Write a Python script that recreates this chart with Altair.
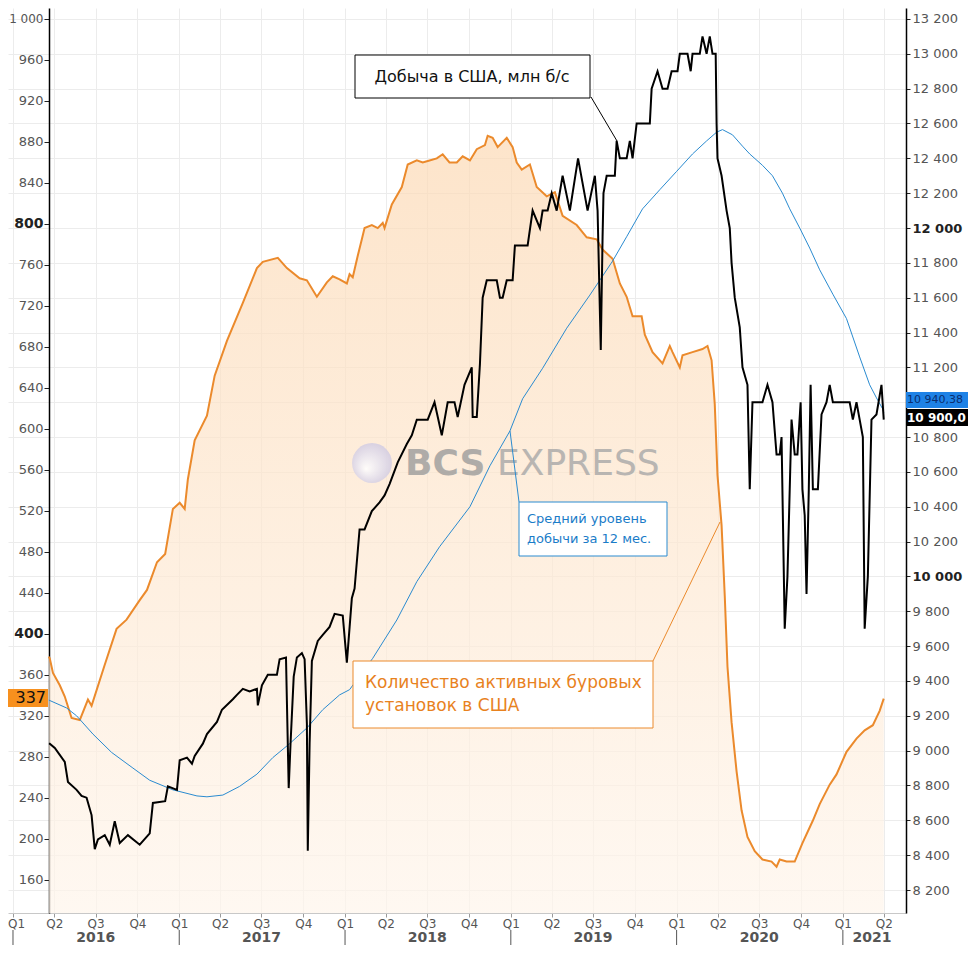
import altair as alt
import pandas as pd

FONT = "DejaVu Sans"

# ---------------- data ----------------
rig_dates = [
    "2016-03-20", "2016-03-22", "2016-03-29", "2016-04-13", "2016-04-24", "2016-05-09", "2016-05-27", "2016-06-14", "2016-06-22", "2016-07-21",
    "2016-08-16", "2016-09-07", "2016-10-06", "2016-10-22", "2016-11-13", "2016-12-01", "2016-12-18", "2017-01-02", "2017-01-13", "2017-01-20",
    "2017-02-04", "2017-03-03", "2017-03-20", "2017-04-16", "2017-05-21", "2017-06-21", "2017-07-04", "2017-08-06", "2017-08-26", "2017-09-23",
    "2017-10-09", "2017-10-31", "2017-11-22", "2017-12-05", "2017-12-20", "2018-01-05", "2018-01-11", "2018-01-18", "2018-01-29", "2018-02-07",
    "2018-02-13", "2018-03-01", "2018-03-14", "2018-03-25", "2018-03-29", "2018-04-14", "2018-05-06", "2018-05-19", "2018-06-08", "2018-06-21",
    "2018-07-06", "2018-07-22", "2018-08-04", "2018-08-19", "2018-09-04", "2018-09-17", "2018-10-03", "2018-10-18", "2018-11-05", "2018-11-11",
    "2018-11-22", "2018-12-03", "2018-12-23", "2019-01-05", "2019-01-14", "2019-01-25", "2019-02-12", "2019-02-27", "2019-03-21", "2019-04-08",
    "2019-04-25", "2019-05-26", "2019-06-17", "2019-07-09", "2019-07-22", "2019-08-13", "2019-08-29", "2019-09-13", "2019-09-26", "2019-10-16",
    "2019-10-23", "2019-11-09", "2019-12-01", "2019-12-17", "2019-12-23", "2020-01-08", "2020-01-14", "2020-02-05", "2020-02-27", "2020-03-09",
    "2020-03-18", "2020-03-25", "2020-03-31", "2020-04-09", "2020-04-16", "2020-04-22", "2020-05-01", "2020-05-12", "2020-05-23", "2020-06-05",
    "2020-06-21", "2020-07-08", "2020-07-28", "2020-08-08", "2020-08-15", "2020-08-30", "2020-09-17", "2020-10-04", "2020-10-27", "2020-11-11",
    "2020-12-03", "2020-12-18", "2021-01-09", "2021-01-31", "2021-02-18", "2021-03-08", "2021-03-23", "2021-04-01",
]
rig_values = [
    378, 376, 362, 350, 339, 318, 316, 336, 330, 370,
    405, 414, 433, 443, 470, 478, 522, 528, 522, 551,
    589, 613, 652, 686, 723, 757, 763, 767, 757, 747,
    745, 729, 743, 749, 746, 742, 751, 748, 769, 785,
    796, 799, 796, 801, 796, 819, 836, 858, 862, 860,
    862, 864, 868, 860, 860, 866, 862, 873, 877, 886,
    884, 875, 884, 875, 860, 853, 858, 836, 827, 831,
    808, 799, 787, 785, 775, 766, 742, 729, 710, 710,
    692, 675, 664, 681, 675, 660, 672, 675, 678, 681,
    667, 624, 555, 506, 437, 368, 314, 266, 228, 202,
    188, 180, 178, 173, 180, 178, 178, 196, 218, 234,
    253, 263, 285, 298, 306, 311, 325, 337,
]

prod_dates = [
    "2016-03-20", "2016-03-22", "2016-04-02", "2016-04-24", "2016-05-01", "2016-05-20", "2016-05-31", "2016-06-11", "2016-06-22", "2016-06-29",
    "2016-07-06", "2016-07-21", "2016-08-01", "2016-08-12", "2016-08-23", "2016-09-10", "2016-10-06", "2016-10-28", "2016-11-04", "2016-12-01",
    "2016-12-07", "2016-12-27", "2017-01-02", "2017-01-18", "2017-01-29", "2017-02-04", "2017-02-22", "2017-03-03", "2017-03-25", "2017-04-05",
    "2017-04-29", "2017-05-08", "2017-05-21", "2017-06-05", "2017-06-21", "2017-06-23", "2017-07-02", "2017-07-15", "2017-08-04", "2017-08-10",
    "2017-08-24", "2017-08-26", "2017-08-30", "2017-09-03", "2017-09-10", "2017-09-17", "2017-09-28", "2017-10-04", "2017-10-09", "2017-10-11",
    "2017-10-15", "2017-10-20", "2017-11-02", "2017-11-13", "2017-11-28", "2017-12-09", "2017-12-27", "2018-01-05", "2018-01-16", "2018-01-22",
    "2018-02-02", "2018-02-13", "2018-03-01", "2018-03-18", "2018-03-29", "2018-04-09", "2018-04-27", "2018-05-17", "2018-05-28", "2018-06-08",
    "2018-07-02", "2018-07-17", "2018-08-02", "2018-08-15", "2018-08-30", "2018-09-06", "2018-09-21", "2018-10-07", "2018-10-09", "2018-10-18",
    "2018-10-25", "2018-10-31", "2018-11-09", "2018-12-01", "2018-12-08", "2018-12-14", "2018-12-23", "2019-01-05", "2019-01-10", "2019-02-07",
    "2019-02-18", "2019-03-06", "2019-03-12", "2019-03-23", "2019-04-01", "2019-04-12", "2019-04-25", "2019-05-11", "2019-05-29", "2019-06-19",
    "2019-07-05", "2019-07-11", "2019-07-18", "2019-07-22", "2019-07-24", "2019-07-31", "2019-08-18", "2019-08-22", "2019-08-29", "2019-09-13",
    "2019-09-20", "2019-09-26", "2019-10-05", "2019-11-03", "2019-11-07", "2019-11-20", "2019-12-01", "2019-12-12", "2019-12-21", "2020-01-03",
    "2020-01-08", "2020-01-25", "2020-02-01", "2020-02-05", "2020-02-21", "2020-02-27", "2020-03-07", "2020-03-14", "2020-03-20", "2020-03-27",
    "2020-03-29", "2020-03-31", "2020-04-09", "2020-04-20", "2020-04-27", "2020-05-01", "2020-05-08", "2020-05-19", "2020-05-25", "2020-06-05",
    "2020-06-10", "2020-06-16", "2020-07-08", "2020-07-19", "2020-07-30", "2020-08-08", "2020-08-15", "2020-08-19", "2020-08-26", "2020-09-01",
    "2020-09-10", "2020-09-17", "2020-09-23", "2020-09-30", "2020-10-04", "2020-10-09", "2020-10-13", "2020-10-18", "2020-10-22", "2020-10-27",
    "2020-11-07", "2020-11-15", "2020-11-26", "2020-12-03", "2020-12-10", "2021-01-16", "2021-01-23", "2021-01-31", "2021-02-07", "2021-02-14",
    "2021-02-18", "2021-02-25", "2021-03-05", "2021-03-16", "2021-03-27", "2021-04-01",
]
prod_values = [
    9040, 9040, 9015, 8935, 8820, 8775, 8740, 8730, 8630, 8435,
    8490, 8515, 8460, 8595, 8470, 8515, 8460, 8525, 8700, 8710,
    8795, 8775, 8945, 8960, 8925, 8970, 9040, 9095, 9165, 9235,
    9295, 9320, 9355, 9340, 9355, 9260, 9375, 9435, 9435, 9525,
    9535, 9285, 8785, 9040, 9425, 9535, 9560, 9525, 9155, 8425,
    9040, 9515, 9630, 9665, 9710, 9785, 9775, 9505, 9875, 9930,
    10270, 10270, 10375, 10425, 10465, 10530, 10655, 10760, 10810, 10900,
    10900, 11000, 10810, 11000, 11000, 10915, 11100, 11200, 10915, 10915,
    11220, 11600, 11700, 11700, 11600, 11600, 11700, 11700, 11900, 11900,
    12100, 12000, 12100, 12100, 12200, 12100, 12300, 12100, 12400, 12100,
    12300, 12100, 11300, 11950, 12200, 12300, 12300, 12500, 12400, 12400,
    12500, 12400, 12600, 12600, 12800, 12900, 12800, 12800, 12900, 12900,
    13000, 13000, 12900, 13000, 13000, 13100, 13000, 13100, 13000, 13000,
    12600, 12400, 12300, 12100, 12000, 11800, 11600, 11430, 11200, 11100,
    10500, 11000, 11000, 11100, 11000, 10700, 10700, 10800, 9700, 10000,
    10900, 10700, 10700, 11000, 10500, 10350, 9900, 10500, 11100, 10500,
    10500, 10930, 11000, 11100, 11000, 11000, 10900, 11000, 10900, 10800,
    9700, 10000, 10900, 10930, 11100, 10900,
]

avg_dates = [
    "2016-03-20", "2016-04-28", "2016-05-20", "2016-06-25", "2016-08-05", "2016-09-21", "2016-10-28", "2016-12-18", "2017-02-09", "2017-03-03",
    "2017-04-07", "2017-05-14", "2017-06-21", "2017-07-26", "2017-09-01", "2017-10-09", "2017-11-13", "2017-12-20", "2018-01-11", "2018-03-03",
    "2018-04-25", "2018-06-08", "2018-07-28", "2018-10-03", "2018-11-16", "2018-12-30", "2019-01-27", "2019-03-12", "2019-05-04", "2019-06-24",
    "2019-08-13", "2019-09-13", "2019-10-18", "2019-11-25", "2020-01-01", "2020-02-05", "2020-03-07", "2020-03-29", "2020-04-11", "2020-05-03",
    "2020-05-25", "2020-06-10", "2020-07-08", "2020-07-30", "2020-08-21", "2020-09-06", "2020-09-28", "2020-10-20", "2020-11-11", "2020-12-10",
    "2021-01-09", "2021-02-07", "2021-03-01", "2021-03-16", "2021-03-30", "2021-04-01",
]
avg_values = [
    9290, 9245, 9200, 9095, 8990, 8900, 8830, 8775, 8740, 8735,
    8745, 8795, 8865, 8960, 9040, 9130, 9235, 9320, 9350, 9530,
    9750, 9970, 10170, 10400, 10635, 10835, 11020, 11195, 11425, 11615,
    11810, 11950, 12110, 12220, 12325, 12425, 12500, 12550, 12565, 12535,
    12470, 12425, 12360, 12300, 12200, 12110, 12000, 11885, 11760, 11620,
    11480, 11260, 11100, 11025, 10960, 10940,
]

left_ticks = [160, 200, 240, 280, 320, 360, 400, 440, 480, 520, 560, 600, 640, 680, 720, 760, 800, 840, 880, 920, 960, 1000]
right_ticks = [8200, 8400, 8600, 8800, 9000, 9200, 9400, 9600, 9800, 10000, 10200, 10400, 10600, 10800,
               11000, 11200, 11400, 11600, 11800, 12000, 12200, 12400, 12600, 12800, 13000, 13200]
quarter_starts = [(2016, 1), (2016, 4), (2016, 7), (2016, 10), (2017, 1), (2017, 4), (2017, 7), (2017, 10),
                  (2018, 1), (2018, 4), (2018, 7), (2018, 10), (2019, 1), (2019, 4), (2019, 7), (2019, 10),
                  (2020, 1), (2020, 4), (2020, 7), (2020, 10), (2021, 1), (2021, 4)]
year_labels = ["2016", "2017", "2018", "2019", "2020", "2021"]
year_label_dates = ["2016-07-01", "2017-07-01", "2018-07-01", "2019-07-01", "2020-07-01", "2021-03-06"]
year_start_dates = ["2016-01-01", "2017-01-01", "2018-01-01", "2019-01-01", "2020-01-01", "2021-01-01"]

rig_df = pd.DataFrame({"date": rig_dates, "rigs": rig_values})
prod_df = pd.DataFrame({"date": prod_dates, "prod": prod_values})
avg_df = pd.DataFrame({"date": avg_dates, "avg": avg_values})
years_df = pd.DataFrame({"date": year_label_dates, "label": year_labels})
seps_df = pd.DataFrame({"date": year_start_dates})
one = pd.DataFrame({"k": [0]})

# ---------------- layout ----------------
W, H = 898, 905
ORANGE = "#eb8a2c"
BLUE = "#2a8bd0"

x_scale = alt.Scale(domain=[alt.DateTime(year=2015, month=12, date=21),
                            alt.DateTime(year=2021, month=5, date=20)])
left_scale = alt.Scale(domain=[127.8, 1010.7], nice=False, zero=False)
right_scale = alt.Scale(domain=[8068, 13263], nice=False, zero=False)

num_expr = "replace(format(datum.value, ','), ',', ' ')"

x_axis = alt.Axis(
    values=[alt.DateTime(year=y, month=m, date=1) for y, m in quarter_starts],
    labelExpr="'Q' + (floor(month(datum.value) / 3) + 1)",
    title=None, grid=True, gridColor="#ececec", tickColor="#9a9a9a", tickSize=4,
    domainColor="#c8c8c8", labelColor="#555555", labelFontSize=12, labelFont=FONT,
    labelPadding=1, labelAngle=0, labelOverlap=False, labelFlush=False,
    labelOffset=alt.expr("datum.value < datetime(2016, 0, 5) ? 3 : 0"),
)
left_axis = alt.Axis(
    orient="left", offset=-41, values=left_ticks, labelExpr=num_expr, title=None, grid=False,
    domainColor="#000000", domainWidth=1.5, tickColor="#222222", tickSize=5,
    labelColor=alt.expr("datum.value % 400 === 0 ? '#222222' : '#555555'"),
    labelFontWeight=alt.expr("datum.value % 400 === 0 ? 'bold' : 'normal'"),
    labelFontSize=alt.expr("datum.value >= 1000 ? 12 : (datum.value % 400 === 0 ? 14 : 13)"),
    labelFont=FONT, labelPadding=1,
)
right_axis = alt.Axis(
    orient="right", values=right_ticks,
    labelExpr="datum.value === 11000 ? '' : " + num_expr,
    title=None, grid=True, gridColor="#ececec",
    domainColor="#000000", domainWidth=1.5, tickColor="#222222", tickSize=4,
    labelColor=alt.expr("datum.value % 2000 === 0 ? '#222222' : '#555555'"),
    labelFontWeight=alt.expr("datum.value % 2000 === 0 ? 'bold' : 'normal'"),
    labelFontSize=13, labelFont=FONT, labelPadding=2,
)

area_fill = alt.LinearGradient(
    gradient="linear",
    stops=[alt.GradientStop(color="#fcd9b4", offset=0), alt.GradientStop(color="#fffaf5", offset=1)],
    x1=1, x2=1, y1=0, y2=1,
)

rig_area = alt.Chart(rig_df).mark_area(
    color=area_fill, line=alt.OverlayMarkDef(color=ORANGE, strokeWidth=2), clip=True
).encode(
    x=alt.X("date:T", scale=x_scale, axis=x_axis),
    y=alt.Y("rigs:Q", scale=left_scale, axis=left_axis),
)

avg_line = alt.Chart(avg_df).mark_line(color=BLUE, strokeWidth=1, clip=True).encode(
    x=alt.X("date:T", scale=x_scale),
    y=alt.Y("avg:Q", scale=right_scale, axis=None),
)

prod_line = alt.Chart(prod_df).mark_line(color="#000000", strokeWidth=2, clip=True).encode(
    x=alt.X("date:T", scale=x_scale),
    y=alt.Y("prod:Q", scale=right_scale, axis=right_axis),
)

# ---------------- annotation helpers ----------------
def box(x0, y0, x1, y1, stroke, fill="white"):
    return alt.Chart(one).mark_rect(fill=fill, stroke=stroke, strokeWidth=1).encode(
        x=alt.value(x0), x2=alt.value(x1), y=alt.value(y0), y2=alt.value(y1))


def filled(x0, y0, x1, y1, fill):
    return alt.Chart(one).mark_rect(fill=fill).encode(
        x=alt.value(x0), x2=alt.value(x1), y=alt.value(y0), y2=alt.value(y1))


def label(text, x, y, size, color, align="left", weight="normal", opacity=1.0):
    return alt.Chart(one).mark_text(
        text=text, align=align, baseline="middle", fontSize=size, font=FONT,
        color=color, fontWeight=weight, opacity=opacity,
    ).encode(x=alt.value(x), y=alt.value(y))


def leader(x0, y0, x1, y1, color):
    return alt.Chart(one).mark_rule(color=color, strokeWidth=1).encode(
        x=alt.value(x0), y=alt.value(y0), x2=alt.value(x1), y2=alt.value(y1))


# watermark
logo = alt.Chart(one).mark_circle(
    size=1590, opacity=0.85,
    fill=alt.RadialGradient(
        gradient="radial",
        stops=[alt.GradientStop(color="#ffffff", offset=0), alt.GradientStop(color="#cbc4de", offset=1)],
        x1=0.35, y1=0.65, r1=0, x2=0.5, y2=0.5, r2=0.6,
    ),
).encode(x=alt.value(364), y=alt.value(455))
wm_bcs = alt.Chart(one).mark_text(
    text="BCS", align="left", baseline="alphabetic", fontSize=36, font=FONT, fontWeight="bold",
    color="#9c9c9c", opacity=0.8,
).encode(x=alt.value(397), y=alt.value(467))
wm_exp = alt.Chart(one).mark_text(
    text="EXPRESS", align="left", baseline="alphabetic", fontSize=36, font=FONT,
    color="#a8a8a8", opacity=0.8,
).encode(x=alt.value(489), y=alt.value(467))

# callouts
notes = [
    leader(583, 89, 609, 133, "#000000"),
    box(347, 47, 582, 90, "#000000"),
    label("Добыча в США, млн б/с", 464, 69, 16, "#111111", align="center"),
    leader(502, 423, 511, 494, BLUE),
    box(511, 494, 659, 548, BLUE),
    label("Средний уровень", 519, 511, 13, "#1a7cc8"),
    label("добычи за 12 мес.", 519, 531, 13, "#1a7cc8"),
    leader(645, 653, 712, 514, ORANGE),
    box(345, 653, 645, 720, ORANGE),
    label("Количество активных буровых", 357, 675, 17, "#e8821e"),
    label("установок в США", 357, 698, 17, "#e8821e"),
]

# last-value tags
tags = [
    filled(0, 681, 40, 699, "#f7901e"),
    label("337", 38, 690, 16, "#111111", align="right"),
    filled(898, 384, 962, 400, "#1e82e6"),
    label("10 940,38", 899, 392, 11, "#0a2d6e"),
    filled(898, 401, 962, 418, "#000000"),
    label("10 900,0", 899, 410, 12, "#ffffff", weight="bold"),
]

year_text = alt.Chart(years_df).mark_text(
    align="center", baseline="middle", fontSize=14, font=FONT, fontWeight="bold", color="#555555"
).encode(x=alt.X("date:T", scale=x_scale), y=alt.value(H + 25), text="label:N")

year_seps = alt.Chart(seps_df).mark_rule(color="#555555", strokeWidth=1).encode(
    x=alt.X("date:T", scale=x_scale), y=alt.value(H + 17), y2=alt.value(H + 32))

chart = alt.layer(
    rig_area, logo, wm_bcs, wm_exp, avg_line, prod_line, *notes, *tags, year_text, year_seps
).resolve_scale(
    y="independent"
).properties(
    width=W, height=H,
    padding={"left": 0, "top": 0, "right": 62, "bottom": 32},
    autosize=alt.AutoSizeParams(type="none"),
    background="white",
).configure_view(strokeWidth=0)

chart.save("out.html", embed_options={"renderer": "svg", "actions": False})
